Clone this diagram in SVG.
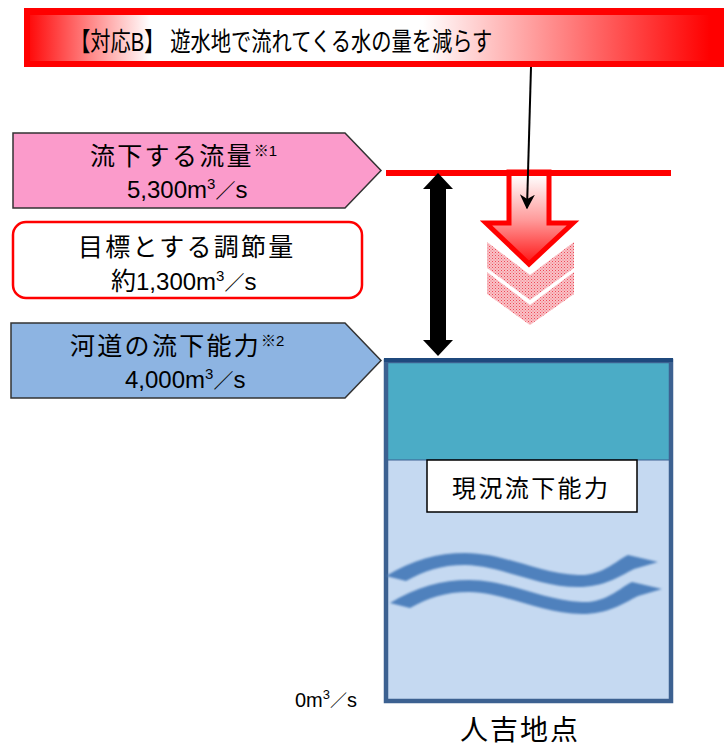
<svg xmlns="http://www.w3.org/2000/svg" width="724" height="746" viewBox="0 0 724 746">
<defs>
<style>
text{font-family:"Liberation Sans","Noto Sans CJK JP",sans-serif;fill:#000}
.lbl{font-size:25px;letter-spacing:2.3px}
.num{font-size:24px}
.sup{font-size:15px}
.sl{font-size:20px}
</style>
<linearGradient id="bannerG" x1="24" y1="0" x2="724" y2="0" gradientUnits="userSpaceOnUse">
<stop offset="0" stop-color="#ff0000"/>
<stop offset="0.18" stop-color="#ffffff"/>
<stop offset="0.57" stop-color="#ffffff"/>
<stop offset="0.98" stop-color="#ff0000"/>
</linearGradient>
<linearGradient id="downG" x1="0" y1="175" x2="0" y2="265" gradientUnits="userSpaceOnUse">
<stop offset="0" stop-color="#ffffff"/>
<stop offset="0.5" stop-color="#ff9a9a"/>
<stop offset="1" stop-color="#ff1010"/>
</linearGradient>
<pattern id="stip" width="3" height="3" patternUnits="userSpaceOnUse">
<rect width="3" height="3" fill="#f9c2c6"/>
<rect x="0" y="0" width="1" height="1" fill="#ee4858"/>
<rect x="1.5" y="1.5" width="1" height="1" fill="#f07080"/>
</pattern>
<marker id="ah" viewBox="0 0 10 10" refX="9" refY="5" markerWidth="15" markerHeight="15" markerUnits="userSpaceOnUse" orient="auto">
<path d="M0,0 L10,5 L0,10 L3,5 Z" fill="#000"/>
</marker>
<filter id="soft" x="-5%" y="-20%" width="110%" height="140%">
<feGaussianBlur stdDeviation="0.9"/>
</filter>
<path id="wave" d="M386 576 C412 560,438 553,465 553 C505 553,540 574,578 575 C602 576,614 562,628 555 L658 562 L634 569 C618 577,604 587,578 587 C538 587,503 566,465 565 C441 565,424 571,406 581 Z"/>
</defs>

<g id="banner">
<rect x="24" y="8" width="710" height="59" fill="#ff0000"/>
<rect x="30" y="15" width="700" height="46" fill="url(#bannerG)"/>
<text transform="translate(70,51) scale(0.78,1)" x="0" y="0" font-size="26">【対応B】 遊水地で流れてくる水の量を減らす</text>
</g>

<g id="flow-node">
<polygon points="13,133 345,133 381,170.5 345,208 13,208" fill="#fb9bcb" stroke="#333" stroke-width="1.5"/>
<text class="lbl" x="90" y="165">流下する流量<tspan class="sup" dy="-9" letter-spacing="0">※1</tspan></text>
<text class="num" x="127" y="198">5,300m<tspan class="sup" dy="-9">3</tspan><tspan class="sl" dy="9">／</tspan>s</text>
</g>

<g id="target-node">
<rect x="13" y="222" width="349" height="76" rx="13" ry="13" fill="#fff" stroke="#ff0000" stroke-width="2.5"/>
<text class="lbl" x="78" y="256">目標とする調節量</text>
<text class="num" x="111" y="290"><tspan font-size="25">約</tspan>1,300m<tspan class="sup" dy="-9">3</tspan><tspan class="sl" dy="9">／</tspan>s</text>
</g>

<g id="capacity-node">
<polygon points="11,323 345,323 381,360.5 345,398 11,398" fill="#8db4e2" stroke="#333" stroke-width="1.5"/>
<text class="lbl" x="70" y="355">河道の流下能力<tspan class="sup" dy="-9" letter-spacing="0">※2</tspan></text>
<text class="num" x="125" y="388">4,000m<tspan class="sup" dy="-9">3</tspan><tspan class="sl" dy="9">／</tspan>s</text>
</g>

<g id="river-box">
<rect x="386" y="361" width="285" height="99" fill="#4bacc6"/>
<rect x="386" y="460" width="285" height="241" fill="#c5d9f1"/>
<line x1="386" y1="460" x2="671" y2="460" stroke="#3c6191" stroke-width="1.2"/>
<rect x="386" y="361" width="285" height="340" fill="none" stroke="#3c6191" stroke-width="4.5"/>
<line x1="384" y1="360" x2="673" y2="360" stroke="#1f497d" stroke-width="4"/>
<g filter="url(#soft)" fill="#4f81bd">
<use href="#wave"/>
<use href="#wave" transform="translate(4,27)"/>
</g>
</g>

<g id="current-capacity">
<rect x="427" y="460" width="210" height="52" fill="#fff" stroke="#000" stroke-width="1.5"/>
<text x="452" y="497" font-size="24" letter-spacing="2.4">現況流下能力</text>
</g>

<g id="zero-label">
<text x="295" y="707" font-size="20">0m<tspan font-size="13" dy="-8">3</tspan><tspan font-size="17" dy="8">／</tspan>s</text>
</g>

<g id="place-label">
<text x="460" y="740" font-size="28" letter-spacing="2">人吉地点</text>
</g>

<g id="reduction">
<polygon points="487,242 530,275 574,242 574,268 530,300 487,268" fill="url(#stip)"/>
<polygon points="487,272 530,305 574,272 574,294 530,325 487,294" fill="url(#stip)"/>
<polygon points="509,172 549,172 549,223 573,223 529,264 486,223 509,223" fill="url(#downG)" stroke="#ff0000" stroke-width="5"/>
</g>

<g id="connectors">
<line x1="386" y1="173" x2="671" y2="173" stroke="#ff0000" stroke-width="6"/>
<line x1="531" y1="67" x2="527" y2="208" stroke="#000" stroke-width="2" marker-end="url(#ah)"/>
<polygon points="438,173 453,189 446,189 446,340 453,340 438,356 423,340 430,340 430,189 423,189" fill="#000"/>
</g>
</svg>
